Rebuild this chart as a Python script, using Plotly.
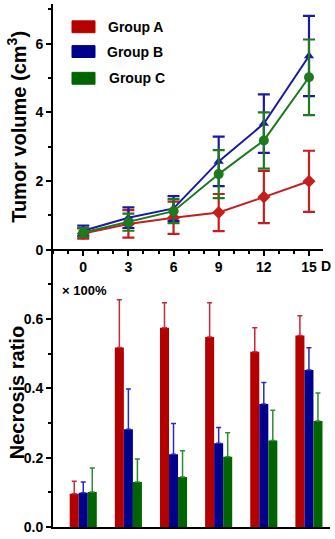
import plotly.graph_objects as go

days = [0, 3, 6, 9, 12, 15]
groups = ["Group A", "Group B", "Group C"]

# Tumor volume (cm^3), mean and SD
vol_a = [0.47, 0.75, 0.93, 1.08, 1.53, 1.99]
vol_a_err = [0.15, 0.40, 0.47, 0.54, 0.76, 0.89]
vol_b = [0.55, 0.93, 1.20, 2.57, 3.67, 5.64]
vol_b_err = [0.15, 0.30, 0.36, 0.72, 0.85, 1.17]
vol_c = [0.50, 0.80, 1.12, 2.20, 3.18, 5.02]
vol_c_err = [0.13, 0.25, 0.35, 0.70, 0.82, 1.10]

# Necrosis ratio (x100%), mean and upper error
nec_a = [0.096, 0.518, 0.575, 0.548, 0.506, 0.553]
nec_a_err = [0.036, 0.138, 0.072, 0.099, 0.069, 0.057]
nec_b = [0.099, 0.282, 0.210, 0.242, 0.355, 0.453]
nec_b_err = [0.031, 0.116, 0.089, 0.045, 0.062, 0.064]
nec_c = [0.101, 0.130, 0.144, 0.203, 0.250, 0.306]
nec_c_err = [0.069, 0.066, 0.076, 0.069, 0.087, 0.081]

line_colors = ["#C41E1E", "#1A1AA6", "#1F7A1F"]
bar_colors = ["#B50000", "#00008C", "#006400"]
err_colors = ["#C8283C", "#2A2AC0", "#2E8B2E"]
symbols = ["diamond", "triangle-up", "circle"]

W, H = 335, 539
L, R, T, B = 53, 5, 4, 7
PW, PH = W - L - R, H - T - B


def px(x):
    return (x - L) / PW


def py(y):
    return (H - B - y) / PH


fig = go.Figure()

vols = [vol_a, vol_b, vol_c]
vol_errs = [vol_a_err, vol_b_err, vol_c_err]
for i, g in enumerate(groups):
    fig.add_trace(go.Scatter(
        x=days, y=vols[i], mode="lines+markers", name=g,
        line=dict(color=line_colors[i], width=2),
        marker=dict(symbol=symbols[i], size=10 if i != 1 else 9, color=line_colors[i]),
        error_y=dict(type="data", array=vol_errs[i], color=line_colors[i],
                     thickness=2.2, width=6),
        xaxis="x", yaxis="y", showlegend=False,
    ))

necs = [nec_a, nec_b, nec_c]
nec_errs = [nec_a_err, nec_b_err, nec_c_err]
for i, g in enumerate(groups):
    fig.add_trace(go.Bar(
        x=days, y=necs[i], name=g, marker=dict(color=bar_colors[i], line=dict(width=0)),
        error_y=dict(type="data", array=nec_errs[i], arrayminus=[0] * 6,
                     symmetric=False, color=err_colors[i], thickness=1.5, width=2.5),
        xaxis="x2", yaxis="y2", showlegend=False,
    ))

tick_font = dict(family="Liberation Sans, Arial", size=14, color="black", weight="bold")
title_font = dict(family="Liberation Sans, Arial", size=20, color="black", weight="bold")

split = py(270)
fig.update_layout(
    width=W, height=H,
    margin=dict(l=L, r=R, t=T, b=B),
    paper_bgcolor="white", plot_bgcolor="white",
    barmode="group", bargap=0.4, bargroupgap=0,
    xaxis=dict(domain=[0, (323 - L) / PW], range=[-2.01, 15.93],
               anchor="free", position=py(252),
               tickvals=days, ticktext=[str(d) for d in days],
               ticks="outside", ticklen=5, tickwidth=1.5, tickcolor="black",
               minor=dict(dtick=1, tick0=0, ticks="outside", ticklen=3, tickwidth=1.5, tickcolor="black"),
               showline=True, linecolor="black", linewidth=1.8,
               showgrid=False, zeroline=False, tickfont=tick_font),
    yaxis=dict(domain=[split, 1], range=[-0.519, 7.153],
               tickvals=[0, 2, 4, 6], ticks="outside", ticklen=5, tickwidth=1.5, tickcolor="black",
               minor=dict(dtick=1, tick0=0, ticks="outside", ticklen=3, tickwidth=1.5, tickcolor="black"),
               showline=True, linecolor="black", linewidth=1.8,
               showgrid=False, zeroline=False, tickfont=tick_font),
    xaxis2=dict(domain=[0, 1], range=[-2.01, 16.4], anchor="y2",
                showticklabels=False, ticks="",
                showline=True, linecolor="black", linewidth=1.8,
                showgrid=False, zeroline=False),
    yaxis2=dict(domain=[0, split], range=[0, 0.749], anchor="x2",
                tickvals=[0, 0.2, 0.4, 0.6], tickformat=".1f",
                ticks="outside", ticklen=5, tickwidth=1.5, tickcolor="black",
                minor=dict(dtick=0.1, tick0=0, ticks="outside", ticklen=3, tickwidth=1.5, tickcolor="black"),
                showline=True, linecolor="black", linewidth=1.8, ticklabeloverflow="allow",
                showgrid=False, zeroline=False, tickfont=tick_font),
)

# Axis titles
fig.add_annotation(x=px(17), y=py(128), xref="paper", yref="paper",
                   text="Tumor volume (cm<sup>3</sup>)", textangle=-90, showarrow=False,
                   font=title_font, xanchor="center", yanchor="middle")
fig.add_annotation(x=px(17), y=py(397), xref="paper", yref="paper",
                   text="Necrosis ratio", textangle=-90, showarrow=False,
                   font=title_font, xanchor="center", yanchor="middle")
fig.add_annotation(x=px(319), y=py(268), xref="paper", yref="paper",
                   text="D", showarrow=False, font=tick_font, xanchor="left", yanchor="middle")
fig.add_annotation(x=px(60), y=py(293), xref="paper", yref="paper",
                   text="× 100%", showarrow=False,
                   font=dict(family="Liberation Sans, Arial", size=13, color="black", weight="bold"),
                   xanchor="left", yanchor="middle")

# Legend (boxes + labels)
leg_y = [27, 52, 79]
leg_tx = [106, 105, 107]
for i, g in enumerate(groups):
    fig.add_shape(type="rect", xref="paper", yref="paper",
                  x0=px(72), x1=px(95), y0=py(leg_y[i] + 6), y1=py(leg_y[i] - 6),
                  fillcolor=bar_colors[i], line=dict(color=bar_colors[i], width=1))
    fig.add_annotation(x=px(leg_tx[i]), y=py(leg_y[i]), xref="paper", yref="paper",
                       text=g, showarrow=False,
                       font=dict(family="Liberation Sans, Arial", size=14, color="black", weight="bold"),
                       xanchor="left", yanchor="middle")

fig.write_html("out.html", config={"displayModeBar": False},
               post_script="document.body.style.margin='0';document.body.style.overflow='hidden';")
